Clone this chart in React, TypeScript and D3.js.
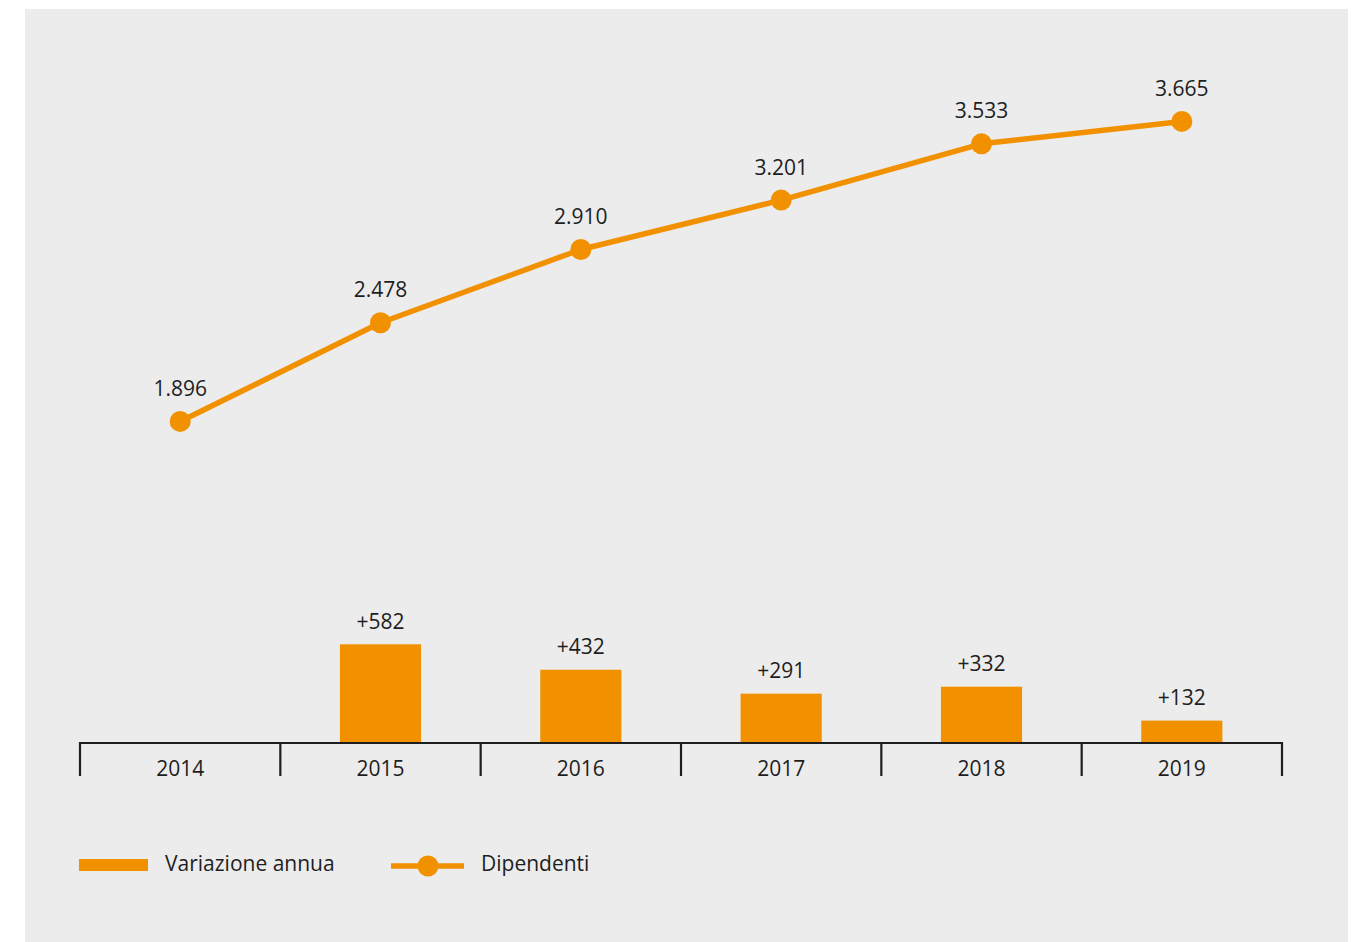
import React from "react";
import * as d3 from "d3";

const years = ["2014", "2015", "2016", "2017", "2018", "2019"];
const dipendenti = [1896, 2478, 2910, 3201, 3533, 3665];
const variazione = [null, 582, 432, 291, 332, 132];
const dipLabels = ["1.896", "2.478", "2.910", "3.201", "3.533", "3.665"];
const varLabels = ["", "+582", "+432", "+291", "+332", "+132"];
const legendLabels = ["Variazione annua", "Dipendenti"];

const W = 1363;
const H = 942;
const ORANGE = "#F29100";
const TEXT = "#1e1e1e";
const FONT = "'Open Sans', 'Noto Sans', sans-serif";
const FS = 21;

export default function App() {
  const x = d3.scaleBand<string>().domain(years).range([80, 1282]).padding(0);
  const y = d3.scaleLinear().domain([0, 4000]).range([743, 743 - 4000 * 0.1696]);
  const cx = (yr: string) => (x(yr) as number) + x.bandwidth() / 2;
  const line = d3
    .line<number>()
    .x((_, i) => cx(years[i]))
    .y((d) => y(d));
  const barW = x.bandwidth() * 0.405;
  const boundaries = [...years.map((yr) => x(yr) as number), 1282];

  return (
    <svg
      width={W}
      height={H}
      style={{ position: "absolute", left: 0, top: 0, fontFamily: FONT }}
    >
      <rect x={25} y={9} width={1323} height={H - 9} fill="#ececec" />
      {variazione.map((v, i) =>
        v == null ? null : (
          <g key={"b" + i}>
            <rect
              x={cx(years[i]) - barW / 2}
              y={y(v)}
              width={barW}
              height={y(0) - y(v)}
              fill={ORANGE}
            />
            <text
              x={cx(years[i])}
              y={y(v) - 15.5}
              textAnchor="middle"
              fontSize={FS}
              fill={TEXT}
            >
              {varLabels[i]}
            </text>
          </g>
        )
      )}
      <line x1={80} x2={1282} y1={743} y2={743} stroke={TEXT} strokeWidth={2.2} />
      {boundaries.map((b, i) => (
        <line key={"t" + i} x1={b} x2={b} y1={742} y2={776} stroke={TEXT} strokeWidth={2.2} />
      ))}
      {years.map((yr) => (
        <text key={"x" + yr} x={cx(yr)} y={776} textAnchor="middle" fontSize={FS} fill={TEXT}>
          {yr}
        </text>
      ))}
      <path d={line(dipendenti) || ""} fill="none" stroke={ORANGE} strokeWidth={5.5} strokeLinejoin="round" />
      {dipendenti.map((v, i) => (
        <g key={"p" + i}>
          <circle cx={cx(years[i])} cy={y(v)} r={10.5} fill={ORANGE} />
          <text x={cx(years[i])} y={y(v) - 25.5} textAnchor="middle" fontSize={FS} fill={TEXT}>
            {dipLabels[i]}
          </text>
        </g>
      ))}
      <rect x={79} y={859} width={69} height={12} fill={ORANGE} />
      <text x={165} y={870.5} fontSize={FS} fill={TEXT}>
        {legendLabels[0]}
      </text>
      <line x1={391} x2={464} y1={866} y2={866} stroke={ORANGE} strokeWidth={5.5} />
      <circle cx={428} cy={866} r={10.5} fill={ORANGE} />
      <text x={481} y={870.5} fontSize={FS} fill={TEXT}>
        {legendLabels[1]}
      </text>
    </svg>
  );
}
